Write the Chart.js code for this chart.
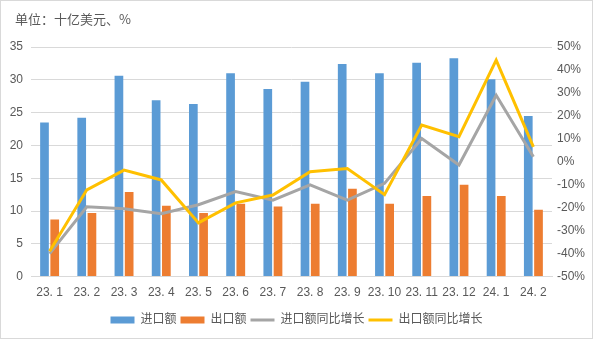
<!DOCTYPE html>
<html>
<head>
<meta charset="utf-8">
<script src="https://cdn.jsdelivr.net/npm/chart.js@4"></script>
<style>
  body { margin: 0; background: #fff; }
  #wrap {
    position: relative;
    width: 593px;
    height: 339px;
    box-sizing: border-box;
    border: 1px solid #d9d9d9;
    background: #fff;
  }
  #unit {
    position: absolute;
    left: 14px;
    top: 8px;
    font: 13px "Noto Sans CJK SC", sans-serif;
    color: #595959;
  }
</style>
</head>
<body>
<div id="wrap">
  <div id="unit">单位：十亿美元、%</div>
  <canvas id="tradeChart" width="591" height="337"></canvas>
</div>
<script>
const months = ["23. 1", "23. 2", "23. 3", "23. 4", "23. 5", "23. 6", "23. 7",
  "23. 8", "23. 9", "23. 10", "23. 11", "23. 12", "24. 1", "24. 2"];

// billions of USD
const imports = [23.5, 24.2, 30.6, 26.9, 26.3, 31.0, 28.6, 29.7, 32.4, 31.0, 32.6, 33.3, 30.1, 24.5];
const exports = [8.7, 9.7, 12.9, 10.8, 9.7, 11.1, 10.7, 11.1, 13.4, 11.1, 12.3, 14.0, 12.3, 10.2];

// year-on-year growth, %
const importsYoY = [-40.0, -19.6, -20.5, -22.6, -18.7, -13.0, -16.7, -10.0, -16.7, -9.4, 10.1, -1.4, 29.0, 2.2];
const exportsYoY = [-39.0, -12.2, -3.6, -7.9, -26.6, -17.9, -14.5, -4.3, -2.9, -14.3, 16.0, 10.9, 44.3, 6.5];

const textColor = "#595959";
const gridColor = "#d9d9d9";
const fontFamily = '"Liberation Sans", "Noto Sans CJK SC", sans-serif';

const ctx = document.getElementById("tradeChart");

new Chart(ctx, {
  type: "bar",
  data: {
    labels: months,
    datasets: [
      {
        label: "进口额",
        data: imports,
        backgroundColor: "#5b9bd5",
        yAxisID: "y",
        order: 3,
        pointStyle: "rect",
        categoryPercentage: 0.55,
        barPercentage: 0.85
      },
      {
        label: "出口额",
        data: exports,
        backgroundColor: "#ed7d31",
        yAxisID: "y",
        order: 4,
        pointStyle: "rect",
        categoryPercentage: 0.55,
        barPercentage: 0.85
      },
      {
        type: "line",
        label: "进口额同比增长",
        data: importsYoY,
        borderColor: "#a5a5a5",
        backgroundColor: "#a5a5a5",
        borderWidth: 3,
        pointRadius: 0,
        tension: 0,
        yAxisID: "y1",
        order: 2,
        pointStyle: "line"
      },
      {
        type: "line",
        label: "出口额同比增长",
        data: exportsYoY,
        borderColor: "#ffc000",
        backgroundColor: "#ffc000",
        borderWidth: 3,
        pointRadius: 0,
        tension: 0,
        yAxisID: "y1",
        order: 1,
        pointStyle: "line"
      }
    ]
  },
  options: {
    responsive: false,
    animation: false,
    layout: {
      padding: { left: 0, right: 0, top: 46, bottom: 2 }
    },
    plugins: {
      tooltip: { enabled: false },
      legend: {
        position: "bottom",
        labels: {
          usePointStyle: true,
          pointStyleWidth: 24,
          boxHeight: 7,
          padding: 4,
          color: textColor,
          font: { family: fontFamily, size: 12 },
          sort: (a, b) => a.datasetIndex - b.datasetIndex
        }
      }
    },
    scales: {
      x: {
        grid: { display: false },
        border: { color: gridColor },
        ticks: {
          color: textColor,
          font: { family: fontFamily, size: 12 },
          padding: 1,
          maxRotation: 0,
          autoSkip: false
        },
        afterFit: (scale) => { scale.height += 9; }
      },
      y: {
        position: "left",
        min: 0,
        max: 35,
        grid: { color: gridColor, drawTicks: false },
        border: { display: false },
        ticks: {
          stepSize: 5,
          color: textColor,
          font: { family: fontFamily, size: 12 },
          padding: 8
        },
        afterFit: (scale) => { scale.width = 30; }
      },
      y1: {
        position: "right",
        min: -50,
        max: 50,
        grid: { display: false, drawTicks: false },
        border: { display: false },
        ticks: {
          stepSize: 10,
          color: textColor,
          font: { family: fontFamily, size: 12 },
          padding: 5,
          callback: (v) => v + "%"
        },
        afterFit: (scale) => { scale.width = 40; }
      }
    }
  }
});
</script>
</body>
</html>
